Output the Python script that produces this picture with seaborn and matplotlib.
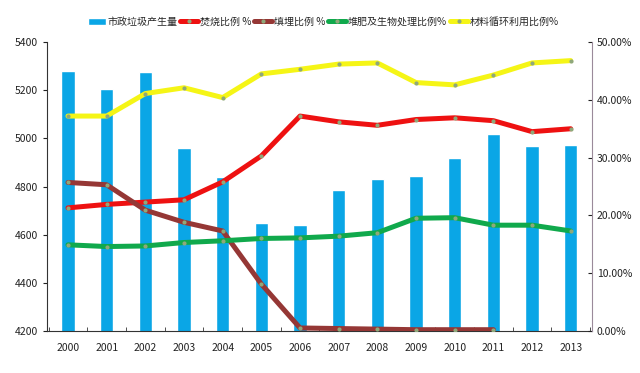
import numpy as np
import pandas as pd
import matplotlib
matplotlib.use("Agg")
import matplotlib.pyplot as plt
import seaborn as sns
from matplotlib.ticker import FuncFormatter, FixedLocator

years = [str(y) for y in range(2000, 2014)]
msw = [5280, 5204, 5277, 4960, 4838, 4650, 4638, 4785, 4832, 4843, 4918, 5020, 4970, 4974]
incineration = [21.3, 21.9, 22.3, 22.7, 25.8, 30.3, 37.2, 36.2, 35.6, 36.6, 36.9, 36.4, 34.5, 35.0]
landfill = [25.7, 25.3, 20.9, 18.8, 17.3, 8.1, 0.5, 0.4, 0.3, 0.2, 0.2, 0.2]
compost = [14.9, 14.6, 14.7, 15.3, 15.6, 16.0, 16.1, 16.4, 17.0, 19.5, 19.6, 18.3, 18.3, 17.3]
recycling = [37.2, 37.2, 41.1, 42.1, 40.4, 44.5, 45.3, 46.2, 46.4, 43.0, 42.6, 44.3, 46.4, 46.8]

labels = ["市政垃圾产生量", "焚烧比例 %", "填埋比例 %", "堆肥及生物处理比例%", "材料循环利用比例%"]

sns.set_style("white")
plt.rcParams["font.family"] = ["Noto Sans CJK SC", "DejaVu Sans"]

fig = plt.figure(figsize=(6.4, 3.73), dpi=100)
ax = fig.add_axes([0.073, 0.113, 0.852, 0.774])

df = pd.DataFrame({"year": years, "msw": msw})
sns.barplot(data=df, x="year", y="msw", color="#0aa6e6", saturation=1, width=0.34, ax=ax, label=labels[0])
ax.set_ylim(4200, 5400)
ax.set_yticks(range(4200, 5401, 200))
ax.set_xlim(-0.55, len(years) - 0.45)
ax.set_xlabel("")
ax.set_ylabel("")
# small separators between categories
ax.xaxis.set_minor_locator(FixedLocator(np.arange(-0.5, len(years), 1.0)))

ax2 = ax.twinx()
series = [
    (incineration, "#ee1111", labels[1]),
    (landfill, "#953735", labels[2]),
    (compost, "#10a94c", labels[3]),
    (recycling, "#f5f516", labels[4]),
]
for vals, col, lab in series:
    sns.lineplot(x=np.arange(len(vals)), y=vals, color=col, linewidth=3.6, ax=ax2,
                 marker="o", markersize=3, markerfacecolor="#8fa87a", markeredgewidth=0, label=lab)
ax2.set_ylim(0, 50)
ax2.set_yticks(range(0, 51, 10))
ax2.yaxis.set_major_formatter(FuncFormatter(lambda v, p: f"{v:.2f}%"))
ax2.set_xlim(-0.55, len(years) - 0.45)

for a in (ax, ax2):
    a.spines["top"].set_visible(False)
    a.tick_params(labelsize=7.5, colors="#222222", length=3)
ax.spines["left"].set_color("#333333")
ax.spines["bottom"].set_color("#333333")
ax.spines["right"].set_visible(False)
ax2.spines["left"].set_visible(False)
ax2.spines["bottom"].set_visible(False)
ax2.spines["right"].set_color("#9a8a9a")
ax.tick_params(axis="y", left=True, direction="out")
ax.tick_params(axis="x", which="major", bottom=False, pad=6)
ax.tick_params(axis="x", which="minor", bottom=True, direction="in", length=3, color="#333333")
ax2.tick_params(axis="y", right=True, direction="in")

h1, l1 = ax.get_legend_handles_labels()
h2, l2 = ax2.get_legend_handles_labels()
ax2.get_legend().remove()
if ax.get_legend():
    ax.get_legend().remove()
fig.legend(h1 + h2, l1 + l2, loc="center", bbox_to_anchor=(0.505, 0.942), ncol=5, frameon=False,
           fontsize=7.2, handlelength=1.8, handletextpad=0.15, columnspacing=0.3)

fig.savefig("out.png", dpi=100)
